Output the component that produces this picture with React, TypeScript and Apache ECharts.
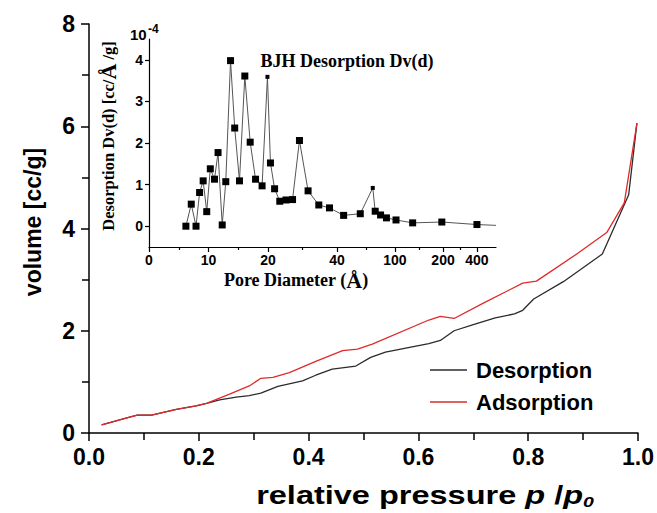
import React, { useEffect, useRef } from "react";
import * as echarts from "echarts";

// ---- Main isotherm data (relative pressure p/p0 -> volume cc/g) ----
const desorptionPressure = [0.023, 0.074, 0.088, 0.114, 0.159, 0.195, 0.214, 0.238, 0.268, 0.292, 0.313, 0.344, 0.389, 0.413, 0.443, 0.486, 0.513, 0.54, 0.577, 0.619, 0.64, 0.665, 0.7, 0.74, 0.775, 0.79, 0.81, 0.864, 0.935, 0.964, 0.983, 0.998];
const desorptionVolume = [0.16, 0.31, 0.35, 0.35, 0.46, 0.53, 0.58, 0.65, 0.7, 0.73, 0.78, 0.91, 1.02, 1.13, 1.25, 1.31, 1.48, 1.58, 1.66, 1.75, 1.81, 2.0, 2.12, 2.25, 2.33, 2.4, 2.62, 2.96, 3.5, 4.2, 4.66, 6.06];
const adsorptionPressure = [0.023, 0.074, 0.088, 0.114, 0.159, 0.195, 0.214, 0.256, 0.292, 0.313, 0.335, 0.365, 0.413, 0.462, 0.489, 0.516, 0.619, 0.64, 0.665, 0.72, 0.79, 0.815, 0.891, 0.943, 0.975, 0.998];
const adsorptionVolume = [0.16, 0.31, 0.35, 0.35, 0.46, 0.53, 0.58, 0.76, 0.92, 1.07, 1.09, 1.18, 1.4, 1.61, 1.64, 1.74, 2.21, 2.28, 2.24, 2.55, 2.93, 2.97, 3.52, 3.92, 4.5, 6.06];
const seriesNames = ["Desorption", "Adsorption"];

// ---- Inset BJH data (pore diameter Å -> Dv(d), ×10^-4) ----
const poreDiameter = [6.2, 7.1, 7.9, 8.5, 9.1, 9.7, 10.3, 11.0, 11.6, 12.3, 12.9, 13.7, 14.4, 15.2, 16.1, 17.0, 17.9, 19.0, 19.9, 20.7, 21.9, 23.4, 25.2, 27.1, 29.1, 31.6, 34.7, 37.8, 46.8, 64.1, 77.1, 79.6, 85.2, 91.3, 102.5, 137, 197.5, 400, 512];
const dvDesorption = [0, 0.53, 0, 0.81, 1.09, 0.35, 1.38, 1.13, 1.77, 0.03, 1.07, 3.98, 2.36, 1.09, 3.61, 2.02, 1.13, 0.97, 3.59, 1.52, 0.9, 0.6, 0.63, 0.64, 2.06, 0.85, 0.51, 0.44, 0.26, 0.3, 0.92, 0.36, 0.27, 0.2, 0.15, 0.08, 0.1, 0.04, 0.02];
const smallMarkerDiameters = [19.9, 77.1];
const unmarkedDiameters = [512];

// Non-uniform pore-diameter axis of the inset: tick labels and where they sit on the axis
const poreTickLabels = [0, 10, 20, 40, 100, 200, 400];
const poreScaleKnots = [0, 1, 2, 3.16, 4.13, 4.94, 5.51];
const poreAxisEnd = 5.83;
const dvTicks = [0, 1, 2, 3, 4];

function poreToAxis(d: number): number {
  const n = poreTickLabels.length;
  for (let i = 0; i < n - 1; i++) {
    if (d <= poreTickLabels[i + 1]) {
      const f = (d - poreTickLabels[i]) / (poreTickLabels[i + 1] - poreTickLabels[i]);
      return poreScaleKnots[i] + f * (poreScaleKnots[i + 1] - poreScaleKnots[i]);
    }
  }
  const i = n - 2;
  const slope = (poreScaleKnots[i + 1] - poreScaleKnots[i]) / (poreTickLabels[i + 1] - poreTickLabels[i]);
  return poreScaleKnots[n - 1] + (d - poreTickLabels[n - 1]) * slope;
}

const SANS = "Liberation Sans, Arial, sans-serif";
const SERIF = "Liberation Serif, Times New Roman, serif";

export default function App() {
  const ref = useRef<HTMLDivElement>(null);

  useEffect(() => {
    if (!ref.current) return;
    const chart = echarts.init(ref.current, undefined, { renderer: "svg" });

    const minorKnots: number[] = [];
    for (let i = 0; i < poreScaleKnots.length - 1; i++) {
      minorKnots.push((poreScaleKnots[i] + poreScaleKnots[i + 1]) / 2);
    }

    const axisBlack = { color: "#000", width: 1.5 };
    const insetBlack = { color: "#000", width: 1.2 };

    const option: any = {
      animation: false,
      backgroundColor: "#fff",
      grid: [
        { left: 89, top: 24, width: 551, height: 409 },
        { left: 149, top: 39, width: 347, height: 208 },
      ],
      xAxis: [
        {
          gridIndex: 0,
          type: "value",
          position: "bottom",
          min: 0,
          max: 1,
          interval: 0.2,
          axisLine: { onZero: false, lineStyle: axisBlack },
          axisTick: { length: 8, lineStyle: axisBlack },
          minorTick: { show: true, splitNumber: 2, length: 7, lineStyle: axisBlack },
          splitLine: { show: false },
          minorSplitLine: { show: false },
          axisLabel: {
            formatter: (v: number) => v.toFixed(1),
            fontSize: 23,
            fontWeight: "bold",
            color: "#000",
            margin: 12,
            fontFamily: SANS,
          },
        },
        {
          gridIndex: 1,
          type: "value",
          position: "bottom",
          min: 0,
          max: poreAxisEnd,
          axisLine: { onZero: false, lineStyle: insetBlack },
          axisTick: { customValues: poreScaleKnots, length: 5, lineStyle: insetBlack },
          splitLine: { show: false },
          axisLabel: {
            customValues: poreScaleKnots,
            formatter: (v: number) => {
              let best = 0;
              for (let i = 0; i < poreScaleKnots.length; i++) {
                if (Math.abs(poreScaleKnots[i] - v) < Math.abs(poreScaleKnots[best] - v)) best = i;
              }
              return String(poreTickLabels[best]);
            },
            fontSize: 14,
            fontWeight: "bold",
            color: "#000",
            margin: 6,
            fontFamily: SANS,
          },
        },
        {
          gridIndex: 1,
          type: "value",
          position: "bottom",
          offset: 0,
          min: 0,
          max: poreAxisEnd,
          axisLine: { show: false, onZero: false },
          axisTick: { show: true, customValues: minorKnots, length: 3, lineStyle: insetBlack },
          axisLabel: { show: false },
          splitLine: { show: false },
        },
      ],
      yAxis: [
        {
          gridIndex: 0,
          type: "value",
          min: 0,
          max: 8,
          interval: 2,
          axisLine: { show: true, onZero: false, lineStyle: axisBlack },
          axisTick: { show: true, length: 8, lineStyle: axisBlack },
          minorTick: { show: true, splitNumber: 2, length: 7, lineStyle: axisBlack },
          splitLine: { show: false },
          minorSplitLine: { show: false },
          axisLabel: {
            fontSize: 23,
            fontWeight: "bold",
            color: "#000",
            margin: 14,
            fontFamily: SANS,
          },
        },
        {
          gridIndex: 1,
          type: "value",
          min: -0.5,
          max: 4.5,
          axisLine: { show: true, onZero: false, lineStyle: insetBlack },
          axisTick: { show: true, customValues: dvTicks, length: 4, lineStyle: insetBlack },
          splitLine: { show: false },
          axisLabel: {
            customValues: dvTicks,
            fontSize: 14,
            fontWeight: "bold",
            color: "#000",
            margin: 6,
            fontFamily: SANS,
          },
        },
      ],
      legend: {
        orient: "vertical",
        left: 430,
        top: 359,
        padding: 0,
        icon: "rect",
        itemWidth: 37,
        itemHeight: 1.5,
        itemGap: 10,
        data: seriesNames,
        textStyle: { fontSize: 22, fontWeight: "bold", color: "#000", fontFamily: SANS, padding: [0, 0, 0, 4] },
      },
      series: [
        {
          name: seriesNames[0],
          type: "line",
          xAxisIndex: 0,
          yAxisIndex: 0,
          symbol: "none",
          lineStyle: { color: "#2b2b2b", width: 1.3 },
          itemStyle: { color: "#2b2b2b" },
          data: desorptionPressure.map((p, i) => [p, desorptionVolume[i]]),
        },
        {
          name: seriesNames[1],
          type: "line",
          xAxisIndex: 0,
          yAxisIndex: 0,
          symbol: "none",
          lineStyle: { color: "#e02a2a", width: 1.3 },
          itemStyle: { color: "#e02a2a" },
          data: adsorptionPressure.map((p, i) => [p, adsorptionVolume[i]]),
        },
        {
          name: "BJH",
          type: "line",
          xAxisIndex: 1,
          yAxisIndex: 1,
          lineStyle: { color: "#555", width: 1 },
          itemStyle: { color: "#000" },
          data: poreDiameter.map((d, i) => ({
            value: [poreToAxis(d), dvDesorption[i]],
            symbol: unmarkedDiameters.includes(d) ? "none" : "rect",
            symbolSize: smallMarkerDiameters.includes(d) ? 4 : 7,
          })),
        },
      ],
      graphic: [
        {
          type: "text",
          x: 33,
          y: 222,
          rotation: Math.PI / 2,
          style: {
            text: "volume [cc/g]",
            font: `bold 23px ${SANS}`,
            fill: "#000",
            align: "center",
            verticalAlign: "middle",
          },
        },
        {
          type: "text",
          x: 425,
          y: 495,
          scaleX: 1.3,
          style: {
            text: "{n|relative pressure }{i|p}{n| /}{i|p}{s|0}",
            align: "center",
            verticalAlign: "middle",
            fill: "#000",
            rich: {
              n: { fontSize: 25, fontWeight: "bold", fontFamily: SANS, fill: "#000" },
              i: { fontSize: 25, fontWeight: "bold", fontStyle: "italic", fontFamily: SANS, fill: "#000" },
              s: { fontSize: 15, fontWeight: "bold", fontStyle: "italic", fontFamily: SANS, fill: "#000", padding: [14, 0, 0, 0] },
            },
          },
        },
        {
          type: "text",
          x: 347,
          y: 61,
          style: {
            text: "BJH Desorption Dv(d)",
            font: `bold 18px ${SERIF}`,
            fill: "#000",
            align: "center",
            verticalAlign: "middle",
          },
        },
        {
          type: "text",
          x: 296,
          y: 280,
          style: {
            text: "{a|Pore Diameter (}{b|Å}{a|)}",
            align: "center",
            verticalAlign: "middle",
            rich: {
              a: { fontSize: 18, fontWeight: "bold", fontFamily: SERIF, fill: "#000" },
              b: { fontSize: 22, fontWeight: "bold", fontFamily: SERIF, fill: "#000" },
            },
          },
        },
        {
          type: "text",
          x: 108,
          y: 136,
          rotation: Math.PI / 2,
          style: {
            text: "{a|Desorption Dv(d) [cc/}{b|Å}{a| /g]}",
            align: "center",
            verticalAlign: "middle",
            rich: {
              a: { fontSize: 16.5, fontWeight: "bold", fontFamily: SERIF, fill: "#000" },
              b: { fontSize: 22, fontWeight: "bold", fontFamily: SERIF, fill: "#000" },
            },
          },
        },
        {
          type: "text",
          x: 130,
          y: 34,
          style: { text: "10", font: `bold 15px ${SANS}`, fill: "#000", align: "left", verticalAlign: "middle" },
        },
        {
          type: "text",
          x: 148,
          y: 29,
          style: { text: "-4", font: `bold 12px ${SANS}`, fill: "#000", align: "left", verticalAlign: "middle" },
        },
      ],
    };

    chart.setOption(option);
    return () => chart.dispose();
  }, []);

  return <div ref={ref} style={{ width: 657, height: 513, position: "absolute", left: 0, top: 0 }} />;
}
